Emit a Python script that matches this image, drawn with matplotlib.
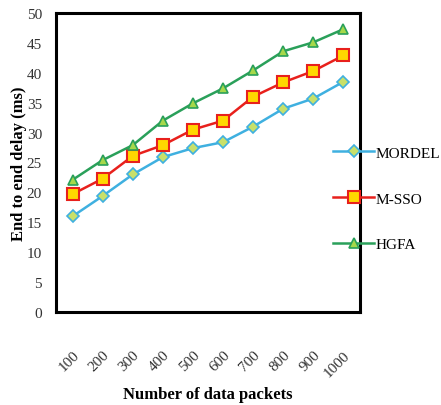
import matplotlib.pyplot as plt
import numpy as np

packets = ['100', '200', '300', '400', '500', '600', '700', '800', '900', '1000']
mordel = [16.0, 19.4, 23.0, 25.9, 27.4, 28.4, 31.0, 34.0, 35.7, 38.5]
mssso = [19.7, 22.3, 26.1, 27.9, 30.5, 32.0, 36.0, 38.4, 40.3, 42.9]
hgfa = [22.1, 25.4, 27.9, 32.0, 34.9, 37.4, 40.4, 43.6, 45.1, 47.3]
yticks = [0, 5, 10, 15, 20, 25, 30, 35, 40, 45, 50]

plt.rcParams['font.family'] = ['Liberation Serif', 'DejaVu Serif']

fig = plt.figure(figsize=(4.41, 4.06), dpi=100)
ax = fig.add_axes([56/441, 1 - 313/406, (360-56)/441, (313-14)/406])

x = np.arange(len(packets))
ax.plot(x, mordel, color='#3fb0e0', lw=1.8, marker='D', ms=6,
        mfc='#c8e06a', mec='#3fb0e0', mew=1.2, label='MORDEL')
ax.plot(x, mssso, color='#e8201c', lw=1.8, marker='s', ms=8,
        mfc='#ffd700', mec='#e8201c', mew=1.5, label='M-SSO')
ax.plot(x, hgfa, color='#2aa05a', lw=1.8, marker='^', ms=7,
        mfc='#a6d84a', mec='#2aa05a', mew=1.2, label='HGFA')

ax.set_xlim(-0.55, len(packets) - 0.45)
ax.set_ylim(0, 50)
ax.set_yticks(yticks)
ax.set_xticks(x)
ax.set_xticklabels(packets, rotation=45, ha='right', va='top', rotation_mode='anchor')
ax.tick_params(axis='both', length=0, labelsize=11, colors='#333333')
ax.tick_params(axis='y', pad=10)
ax.tick_params(axis='x', pad=26)
for s in ax.spines.values():
    s.set_linewidth(2.2)
    s.set_color('black')

ax.set_ylabel('End to end delay (ms)', fontsize=12, fontweight='bold', labelpad=0)
ax.set_xlabel('Number of data packets', fontsize=12, fontweight='bold', labelpad=5)

ax.legend(loc='upper left', bbox_to_anchor=(327/441, 1 - 141/406), bbox_transform=fig.transFigure,
          frameon=False, fontsize=11, labelspacing=2.1, handlelength=2.7,
          handletextpad=0.1, borderaxespad=0)

fig.savefig('out.png', dpi=100)
